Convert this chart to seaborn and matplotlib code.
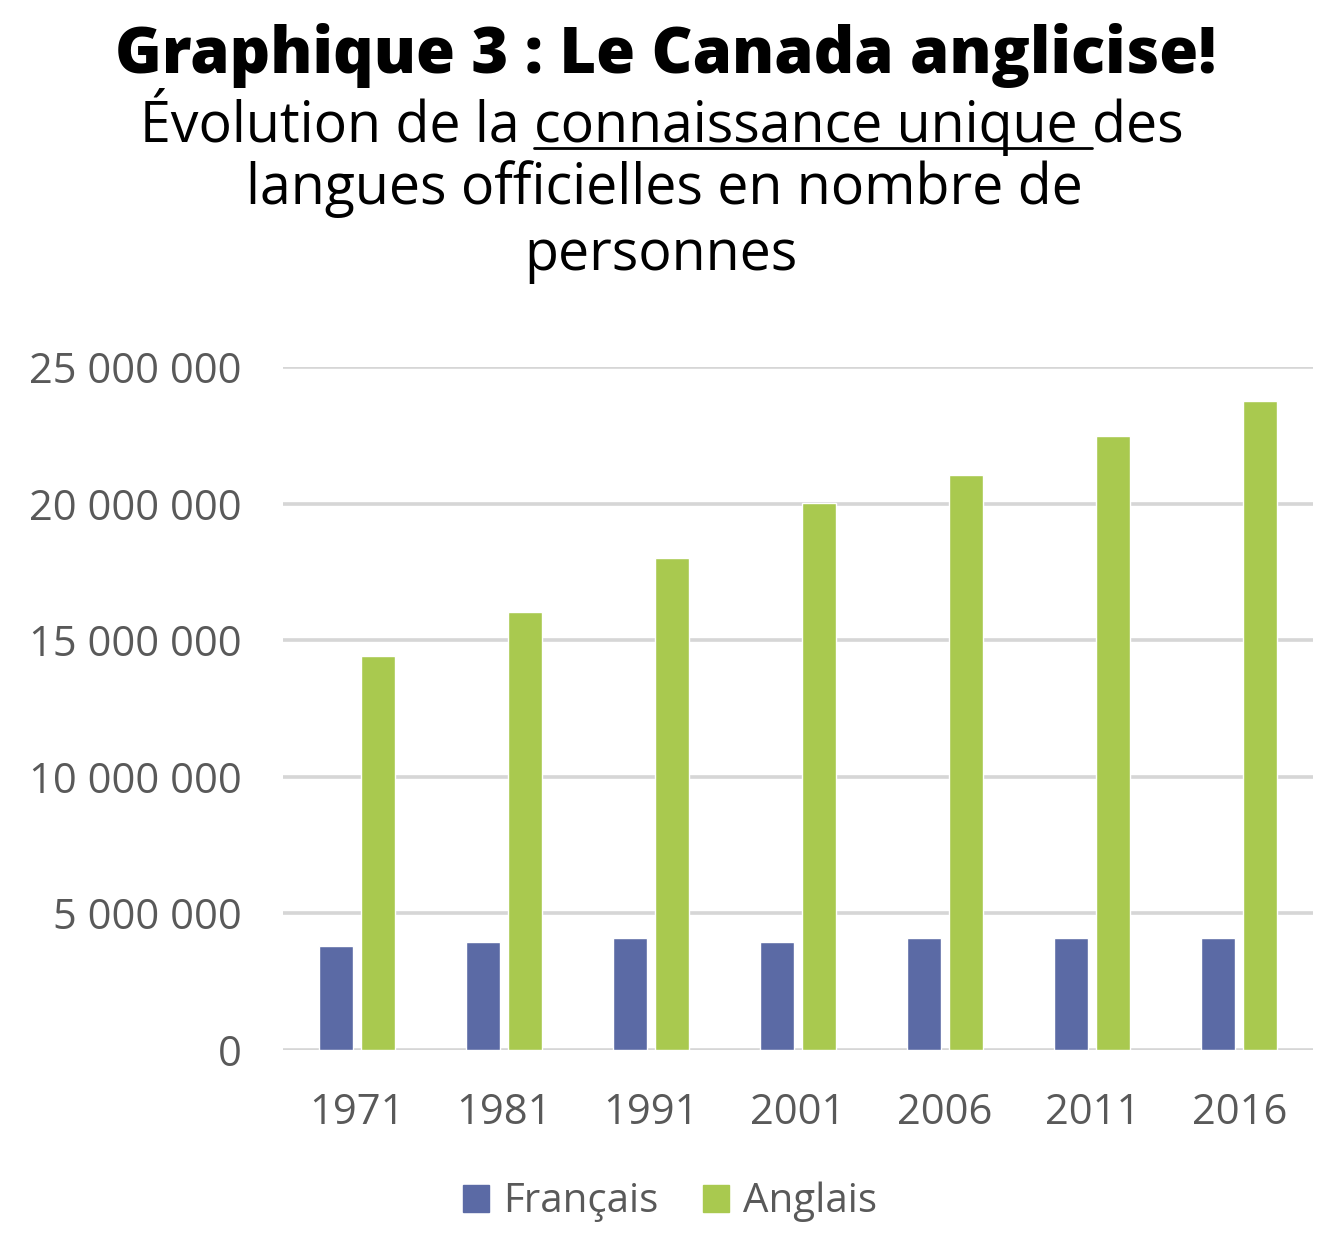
import seaborn as sns
import matplotlib.pyplot as plt
import pandas as pd
from matplotlib.ticker import FuncFormatter
from matplotlib.lines import Line2D

# data
annees = ["1971", "1981", "1991", "2001", "2006", "2011", "2016"]
francais = [3810000, 3950000, 4100000, 3950000, 4100000, 4100000, 4100000]
anglais = [14420000, 16020000, 18020000, 20020000, 21040000, 22470000, 23760000]
langues = ["Français", "Anglais"]
couleurs = ["#5B6AA5", "#A9C94F"]

df = pd.DataFrame({
    "annee": annees * 2,
    "langue": [langues[0]] * len(annees) + [langues[1]] * len(annees),
    "nombre": francais + anglais,
})

sns.set_theme(style="white")
plt.rcParams["font.family"] = ["Open Sans", "DejaVu Sans"]

fig = plt.figure(figsize=(13.4, 12.55), dpi=100)
ax = fig.add_axes([283 / 1340, 1 - 1050 / 1255, 1030 / 1340, 683 / 1255])

sns.barplot(data=df, x="annee", y="nombre", hue="langue", palette=couleurs,
            width=0.57, gap=0.19, saturation=1, ax=ax, legend=False)

ax.set_ylim(0, 25000000)
ax.set_xlim(-0.5, 6.5)
ax.set_yticks(range(0, 25000001, 5000000))
ax.yaxis.set_major_formatter(FuncFormatter(lambda v, p: f"{v:,.0f}".replace(",", " ")))
ax.grid(axis="y", color="#D6D6D6", linewidth=2.6)
ax.set_axisbelow(True)
for s in ax.spines.values():
    s.set_visible(False)
ax.tick_params(axis="both", length=0, labelsize=30, labelcolor="#595959")
ax.tick_params(axis="y", pad=30)
ax.tick_params(axis="x", pad=30)
ax.set_xlabel("")
ax.set_ylabel("")

# legend
handles = [plt.Rectangle((0, 0), 1, 1, color=c) for c in couleurs]
fig.legend(handles, langues, loc="center", bbox_to_anchor=(0.5, 1 - 1202 / 1255),
           ncol=2, frameon=False, fontsize=29, labelcolor="#595959",
           handlelength=0.66, handleheight=0.66, handletextpad=0.35,
           columnspacing=1.1)

# titles
fig.text(0.497, 1 - 55 / 1255, "Graphique 3 : Le Canada anglicise!", ha="center",
         va="center", fontsize=45.5, fontweight="heavy", color="black")

debut = "Évolution de la "
souligne = "connaissance unique "
fin = "des"
ligne1 = fig.text(0.494, 1 - 122 / 1255, debut + souligne + fin, ha="center",
                  va="center", fontsize=40, color="black")
fig.text(0.496, 1 - 189 / 1255, "langues officielles en nombre de", ha="center",
         va="center", fontsize=40, color="black")
fig.text(0.493, 1 - 256 / 1255, "personnes", ha="center", va="center",
         fontsize=40, color="black")

# underline under "connaissance unique "
fig.canvas.draw()
r = fig.canvas.get_renderer()
bb = ligne1.get_window_extent(r)
t1 = fig.text(0, 0, debut, fontsize=40)
t2 = fig.text(0, 0, debut + souligne, fontsize=40)
x0 = bb.x0 + t1.get_window_extent(r).width
x1 = bb.x0 + t2.get_window_extent(r).width
t1.remove()
t2.remove()
yl = 1 - 148 / 1255
fig.add_artist(Line2D([x0 / fig.bbox.width, x1 / fig.bbox.width], [yl, yl],
                      color="black", linewidth=2, transform=fig.transFigure))

fig.savefig("out.png", dpi=100)
